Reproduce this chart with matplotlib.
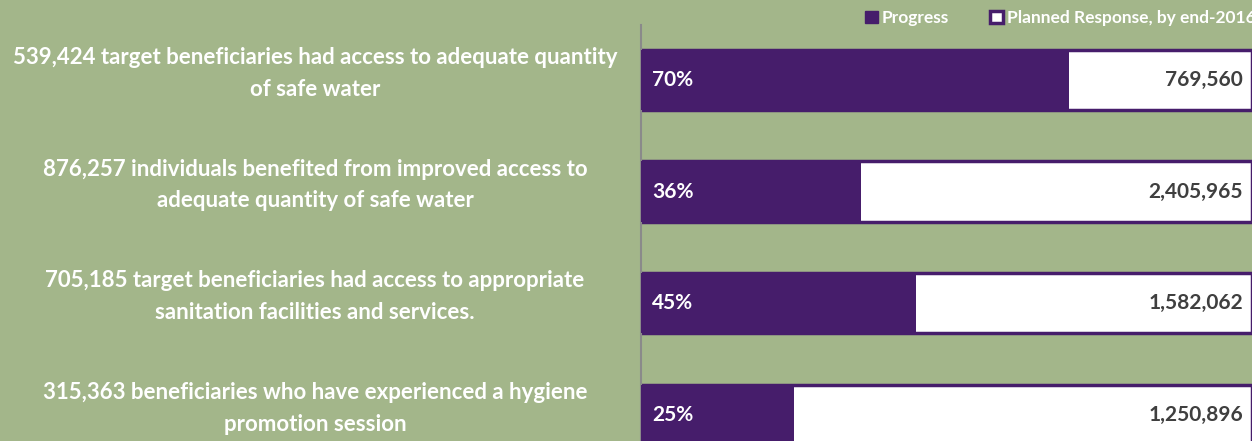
import matplotlib.pyplot as plt
from matplotlib.patches import Patch
from matplotlib.transforms import blended_transform_factory

labels = ["539,424 target beneficiaries had access to adequate quantity\nof safe water",
          "876,257 individuals benefited from improved access to\nadequate quantity of safe water",
          "705,185 target beneficiaries had access to appropriate\nsanitation facilities and services.",
          "315,363 beneficiaries who have experienced a hygiene\npromotion session"]
progress = [0.70, 0.36, 0.45, 0.25]
pct_text = ["70%", "36%", "45%", "25%"]
planned = ["769,560", "2,405,965", "1,582,062", "1,250,896"]

bg = "#a3b68a"
purple = "#461d6b"
plt.rcParams['font.family'] = ['Lato', 'DejaVu Sans']

fig = plt.figure(figsize=(12.52, 4.41), dpi=100, facecolor=bg)
ax = fig.add_axes([641/1252, 0, 1 - 641/1252, (441-25)/441])
ax.set_facecolor(bg)

ypos = list(range(len(labels)))
# planned (full) bars, white with purple border
ax.barh(ypos, [1.0]*len(ypos), height=0.54, color="white", edgecolor=purple, linewidth=2.5, zorder=2)
ax.barh(ypos, progress, height=0.54, color=purple, edgecolor=purple, linewidth=0, zorder=3)

trans = blended_transform_factory(fig.transFigure, ax.transData)
for i in ypos:
    ax.text(0.018, i, pct_text[i], color="white", fontsize=15, fontweight="bold",
            va="center", ha="left", zorder=4)
    ax.text(0.985, i, planned[i], color="#3f3f3f", fontsize=15, fontweight="bold",
            va="center", ha="right", zorder=4)
    # category labels on the left side of the figure
    ax.text(315/1252, i - 0.06, labels[i], transform=trans,
            color="white", fontsize=16, fontweight="bold", ha="center", va="center",
            linespacing=1.62)

ax.set_xlim(0, 1)
ax.set_ylim(3.233, -0.492)
ax.set_xticks([])
ax.set_yticks([])
for s in ["top", "right", "bottom"]:
    ax.spines[s].set_visible(False)
ax.spines["left"].set_color("#8a8a8a")
ax.spines["left"].set_linewidth(1.5)

handles = [Patch(facecolor=purple, edgecolor=purple, label="Progress"),
           Patch(facecolor="white", edgecolor=purple, linewidth=2.5, label="Planned Response, by end-2016")]
leg = fig.legend(handles=handles, loc="center left", bbox_to_anchor=(865/1252, 1 - 18/441), ncol=2,
                 frameon=False, handlelength=0.75, handleheight=0.75, handletextpad=0.2,
                 columnspacing=2.4, borderpad=0, borderaxespad=0, prop={"weight": "bold", "size": 12.5})
for t in leg.get_texts():
    t.set_color("white")

fig.savefig("out.png", dpi=100, facecolor=bg)
